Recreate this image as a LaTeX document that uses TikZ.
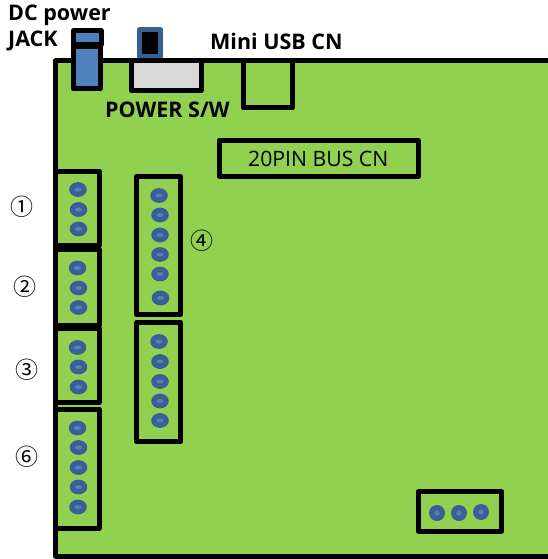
\documentclass[tikz,border=0pt]{standalone}
\usepackage{fontspec}
\setmainfont{Open Sans}
\newfontfamily\cjkfont{Noto Sans CJK KR}
\definecolor{board}{HTML}{92D050}
\definecolor{pinout}{HTML}{3A5F96}
\definecolor{pinin}{HTML}{4F81BD}
\definecolor{jackblue}{HTML}{4F81BD}
\definecolor{swframe}{HTML}{35608F}
\definecolor{swgrey}{HTML}{D9D9D9}
\tikzset{
  outline/.style={draw=black,line width=5pt,line join=round},
  lab/.style={font=\bfseries\fontsize{21.5}{23}\selectfont,inner sep=0pt,anchor=west,text=black},
  reg/.style={font=\fontsize{21.2}{23}\selectfont,inner sep=0pt,anchor=west,text=black},
  circled/.style={font=\cjkfont\fontsize{23}{25}\selectfont,inner sep=0pt,text=black},
}
\begin{document}
\begin{tikzpicture}[x=1pt,y=-1pt]
\useasboundingbox (0,0) rectangle (548,559);
% board
\fill[board] (55.5,61) rectangle (548,556);
\draw[outline] (548,61) -- (55.5,61) -- (55.5,556) -- (548,556);
% DC jack
\draw[outline,fill=jackblue] (73.5,30.5) rectangle (101,45);
\draw[outline,fill=jackblue] (73,47) rectangle (100,89);
% power switch
\draw[draw=swframe,line width=5pt,fill=black,line join=round] (139.5,29.5) rectangle (160.5,57);
\draw[outline,fill=swgrey] (131.5,61) rectangle (201,90.5);
% mini usb
\draw[outline] (243.5,61) rectangle (292.5,108);
% 20 pin
\draw[outline] (219,140.5) rectangle (418.5,176);
% left headers
\draw[outline] (55.5,171) rectangle (99,245.5);
\draw[outline] (55.5,249) rectangle (99,325);
\draw[outline] (55.5,328) rectangle (99,402.5);
\draw[outline] (55.5,409) rectangle (99,528);
% centre headers
\draw[outline] (136.5,176.5) rectangle (180.5,314.5);
\draw[outline] (136.5,322.5) rectangle (180.5,441.5);
% bottom right header
\draw[outline] (418.5,491.5) rectangle (501.5,531);
% pins
\foreach \x/\y in {78/189.5,78.5/209.5,78.5/229,
  77.5/268,78.5/288,78.5/307.5,
  77.5/347.5,78.5/367,78.5/387,
  77.5/428,78.5/447.5,78.5/467.5,78.5/487,78/507,
  159/195.5,160/215,160/235,160/254.5,160/274,160.5/298,
  159/341.5,160/361.5,160/381.5,160/401,160/420.5}{
  \fill[pinout] (\x,\y) ellipse (8.8 and 7.4);
  \fill[pinin] (\x,\y) ellipse (3.6 and 2);
}
\foreach \x/\y in {437/513,459/513,481/512}{
  \fill[pinout] (\x,\y) circle (8);
  \fill[pinin] (\x,\y) circle (2.6);
}
% labels
\node[lab] (dc) at (8,15) {DC power};
\node[lab] (jack) at (8,41) {JACK};
\node[lab] (usb) at (210,41) {Mini USB CN};
\node[lab] (sw) at (105,110) {POWER S/W};
\node[reg] (bus) at (248,159) {20PIN BUS CN};
\node[circled] (n1) at (22,206.5) {①};
\node[circled] (n2) at (24.5,286.5) {②};
\node[circled] (n3) at (27,369.5) {③};
\node[circled] (n4) at (201.5,240.5) {④};
\node[circled] (n6) at (27,456.5) {⑥};
\end{tikzpicture}
\end{document}
